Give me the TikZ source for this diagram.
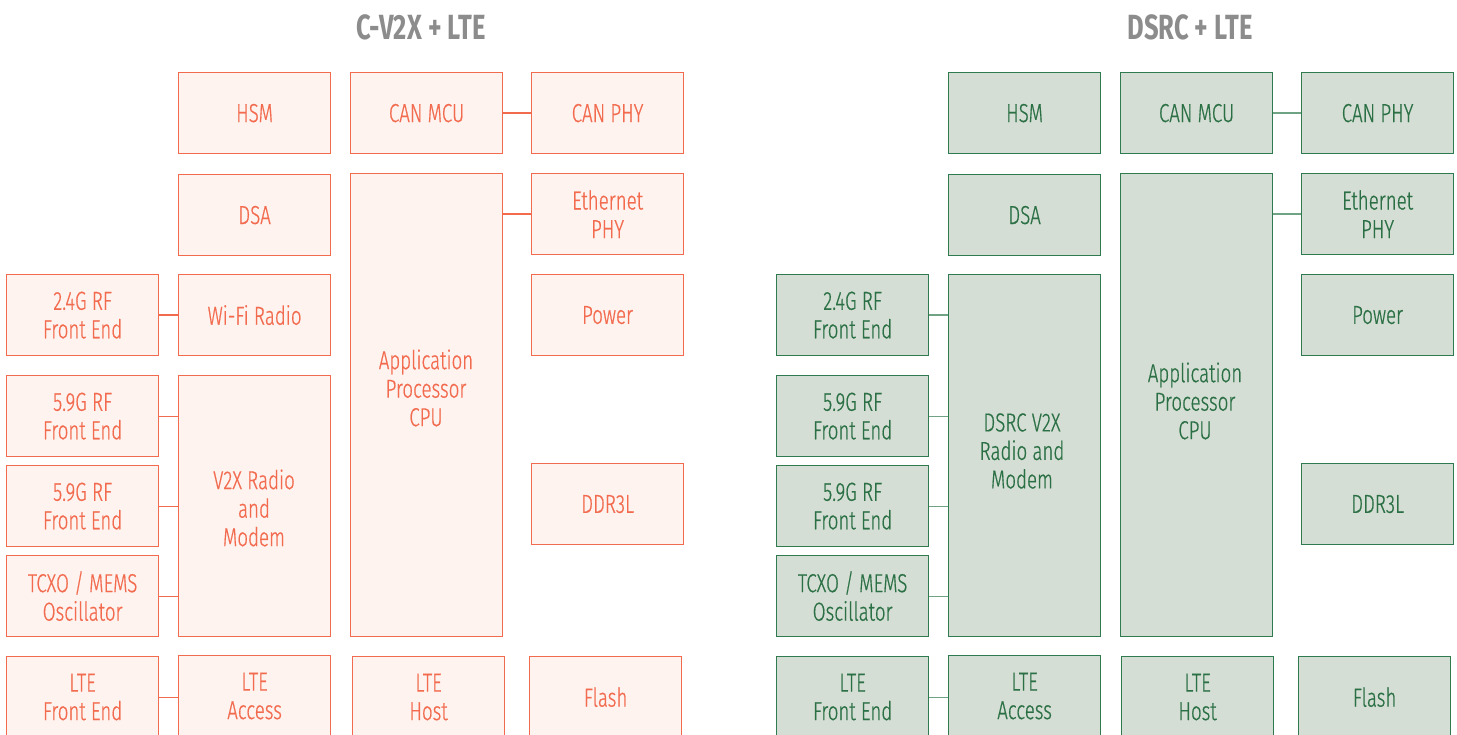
\documentclass[tikz,border=0pt]{standalone}
\usepackage{fontspec}
\newfontfamily\bodyfont{Fira Sans}[UprightFont=* Light, FakeStretch=0.72, FakeBold=0.6]
\newfontfamily\titlefont{Fira Sans}[UprightFont=* Bold, FakeStretch=0.73]
\definecolor{lline}{HTML}{F26B4F}
\definecolor{lfill}{HTML}{FFF3EF}
\definecolor{ltext}{HTML}{F26B4F}
\definecolor{rline}{HTML}{2F7A4E}
\definecolor{rfill}{HTML}{D5DED5}
\definecolor{rtext}{HTML}{2B7045}
\definecolor{rconn}{HTML}{6FA383}
\definecolor{ttl}{HTML}{8C8C8C}
\tikzset{
  bx/.style={line width=1.2pt, minimum width=152pt, minimum height=81pt, inner sep=0pt,
    align=center, anchor=north west, font=\bodyfont\fontsize{26}{28.5}\selectfont},
  lbox/.style={bx, draw=lline, fill=lfill, text=ltext},
  rbox/.style={bx, draw=rline, fill=rfill, text=rtext},
  ltxt/.style={align=center, text=ltext, font=\bodyfont\fontsize{26}{28.5}\selectfont},
  rtxt/.style={align=center, text=rtext, font=\bodyfont\fontsize{26}{28.5}\selectfont},
  lconn/.style={draw=lline, line width=1.2pt},
  rconnst/.style={draw=rconn, line width=1.2pt},
  ttlst/.style={text=ttl, font=\titlefont\fontsize{35}{40}\selectfont}
}
\begin{document}
\begin{tikzpicture}[x=1pt,y=-1pt]
\useasboundingbox (0,0) rectangle (1457,735);
\clip (0,0) rectangle (1457,735);
% titles
\node[ttlst] (titleL) at (421,27) {C-V2X + LTE};
\node[ttlst] (titleR) at (1190,27) {DSRC + LTE};
% ---------- left panel ----------
\node[lbox] (hsmL) at (178,72) {HSM};
\node[lbox] (canmcuL) at (350,72) {CAN MCU};
\node[lbox] (canphyL) at (531,72) {CAN PHY};
\node[lbox] (dsaL) at (178,174) {DSA};
\node[lbox, minimum height=463pt] (cpuL) at (350,173) {};
\node[ltxt] (cpuLt) at (426,388) {Application\\Processor\\CPU};
\node[lbox] (ethL) at (531,173) {Ethernet\\PHY};
\node[lbox] (rf24L) at (6,274) {2.4G RF\\Front End};
\node[lbox] (wifiL) at (178,274) {Wi-Fi Radio};
\node[lbox] (powerL) at (531,274) {Power};
\node[lbox] (rf59aL) at (6,375) {5.9G RF\\Front End};
\node[lbox, minimum height=261pt] (v2xL) at (178,375) {};
\node[ltxt] (v2xLt) at (254,508) {V2X Radio\\and\\Modem};
\node[lbox] (rf59bL) at (6,465) {5.9G RF\\Front End};
\node[lbox] (ddrL) at (531,463) {DDR3L};
\node[lbox] (tcxoL) at (6,555) {TCXO / MEMS\\Oscillator};
\node[lbox] (ltefeL) at (6,656) {LTE\\Front End};
\node[lbox] (lteaccL) at (178,655) {LTE\\Access};
\node[lbox] (ltehostL) at (352,656) {LTE\\Host};
\node[lbox] (flashL) at (529,656) {Flash};
\draw[lconn] (canmcuL.east) -- (canphyL.west);
\draw[lconn] (ethL.west -| cpuL.east) -- (ethL.west);
\draw[lconn] (rf24L.east) -- (wifiL.west);
\draw[lconn] (rf59aL.east) -- (rf59aL.east -| v2xL.west);
\draw[lconn] (rf59bL.east) -- (rf59bL.east -| v2xL.west);
\draw[lconn] (tcxoL.east) -- (tcxoL.east -| v2xL.west);
\draw[lconn] (ltefeL.east) -- (ltefeL.east -| lteaccL.west);
% ---------- right panel ----------
\node[rbox] (hsmR) at (948,72) {HSM};
\node[rbox] (canmcuR) at (1120,72) {CAN MCU};
\node[rbox] (canphyR) at (1301,72) {CAN PHY};
\node[rbox] (dsaR) at (948,174) {DSA};
\node[rbox, minimum height=463pt] (cpuR) at (1120,173) {};
\node[rtxt] (cpuRt) at (1195,401) {Application\\Processor\\CPU};
\node[rbox] (ethR) at (1301,173) {Ethernet\\PHY};
\node[rbox] (rf24R) at (776,274) {2.4G RF\\Front End};
\node[rbox, minimum height=362pt] (dsrcR) at (948,274) {};
\node[rtxt] (dsrcRt) at (1022,451) {DSRC V2X\\Radio and\\Modem};
\node[rbox] (powerR) at (1301,274) {Power};
\node[rbox] (rf59aR) at (776,375) {5.9G RF\\Front End};
\node[rbox] (rf59bR) at (776,465) {5.9G RF\\Front End};
\node[rbox] (ddrR) at (1301,463) {DDR3L};
\node[rbox] (tcxoR) at (776,555) {TCXO / MEMS\\Oscillator};
\node[rbox] (ltefeR) at (776,656) {LTE\\Front End};
\node[rbox] (lteaccR) at (948,655) {LTE\\Access};
\node[rbox] (ltehostR) at (1121,656) {LTE\\Host};
\node[rbox] (flashR) at (1298,656) {Flash};
\draw[rconnst] (canmcuR.east) -- (canphyR.west);
\draw[rconnst] (ethR.west -| cpuR.east) -- (ethR.west);
\draw[rconnst] (rf24R.east) -- (rf24R.east -| dsrcR.west);
\draw[rconnst] (rf59aR.east) -- (rf59aR.east -| dsrcR.west);
\draw[rconnst] (rf59bR.east) -- (rf59bR.east -| dsrcR.west);
\draw[rconnst] (tcxoR.east) -- (tcxoR.east -| dsrcR.west);
\draw[rconnst] (ltefeR.east) -- (ltefeR.east -| lteaccR.west);
\end{tikzpicture}
\end{document}
